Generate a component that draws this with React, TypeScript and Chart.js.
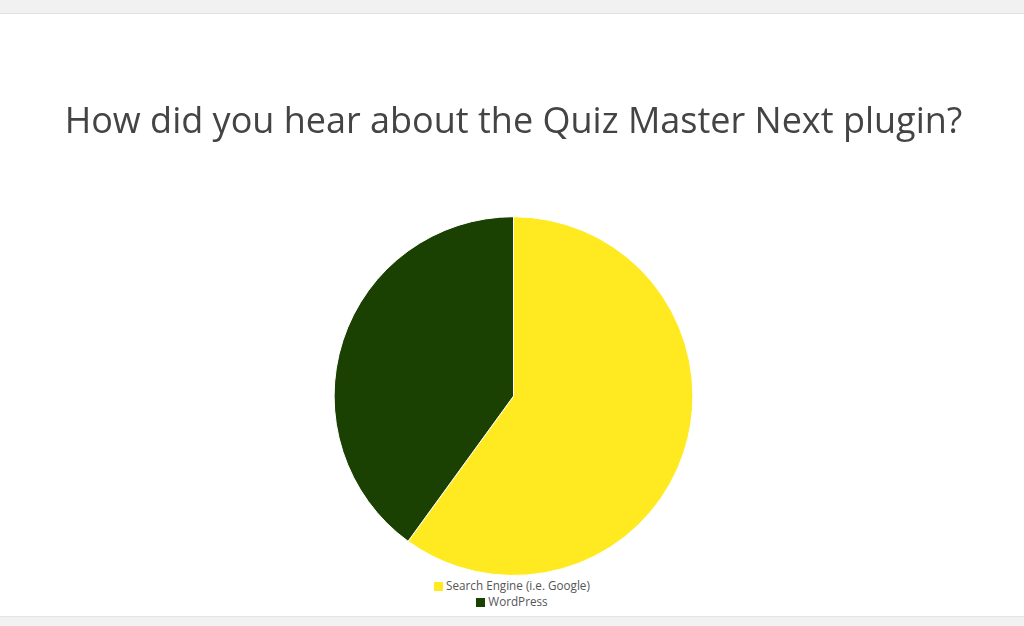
import { useEffect, useRef } from 'react';
import { Chart, registerables } from 'chart.js';

Chart.register(...registerables);

const labels = ['Search Engine (i.e. Google)', 'WordPress'];
const values = [3, 2];
const colors = ['#ffea22', '#1a4002'];
const title = 'How did you hear about the Quiz Master Next plugin?';

const App = () => {
  const canvasRef = useRef<HTMLCanvasElement | null>(null);
  const chartRef = useRef<Chart | null>(null);

  useEffect(() => {
    const ctx = canvasRef.current?.getContext('2d');
    if (!ctx) return;

    chartRef.current = new Chart(ctx, {
      type: 'pie',
      data: {
        labels: labels,
        datasets: [
          {
            data: values,
            backgroundColor: colors,
            borderColor: '#ffffff',
            borderWidth: 1,
          },
        ],
      },
      options: {
        animation: false,
        responsive: true,
        maintainAspectRatio: false,
        layout: { padding: { left: 3, right: 0, top: 0, bottom: 0 } },
        plugins: {
          legend: { display: false },
          tooltip: { enabled: false },
          title: {
            display: true,
            text: title,
            color: '#444444',
            font: { family: '"Open Sans", sans-serif', size: 36, weight: 'normal' },
            padding: { top: 87, bottom: 72 },
          },
        },
      },
    });
    return () => chartRef.current?.destroy();
  }, []);

  return (
    <div style={{ position: 'relative', width: 1024, height: 626, background: '#f1f1f1', overflow: 'hidden' }}>
      <style>{'body{margin:0}'}</style>
      <div
        style={{
          position: 'absolute',
          top: 13,
          left: 0,
          width: 1024,
          height: 604,
          background: '#ffffff',
          borderTop: '1px solid #e0e0e0',
          borderBottom: '1px solid #e4e4e4',
          boxSizing: 'border-box',
        }}
      />
      <div style={{ position: 'absolute', top: 14, left: 0, width: 1024, height: 562 }}>
        <canvas ref={canvasRef} />
      </div>
      <div
        style={{
          position: 'absolute',
          top: 577,
          left: 0,
          width: 1024,
          textAlign: 'center',
          fontFamily: '"Open Sans", sans-serif',
          fontSize: 11.7,
          color: '#555555',
          lineHeight: '16px',
        }}
      >
        {labels.map((l, i) => (
          <div key={l}>
            <span
              style={{
                display: 'inline-block',
                width: 9,
                height: 9,
                background: colors[i],
                marginRight: 3,
                verticalAlign: '-1px',
              }}
            />
            {l}
          </div>
        ))}
      </div>
    </div>
  );
};

export default App;
